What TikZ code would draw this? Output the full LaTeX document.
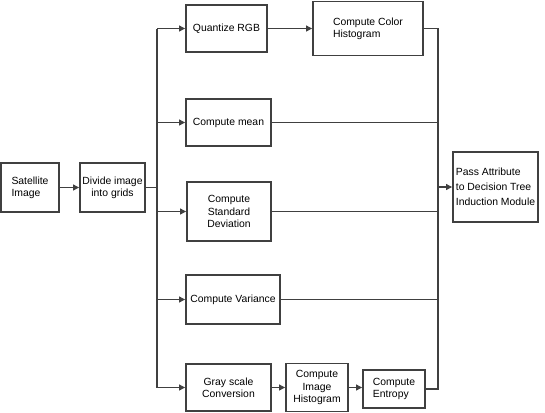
\documentclass[tikz,border=0pt]{standalone}
\usepackage{fontspec}
\setmainfont{Liberation Sans}
\usetikzlibrary{arrows.meta}
\begin{document}
\begin{tikzpicture}[x=0.75pt,y=-0.75pt,
  box/.style={draw=black!75, line width=0.8pt, inner sep=1pt, align=center,
    font=\fontsize{7.8}{9.2}\selectfont},
  conn/.style={draw=black!75, line width=0.8pt},
  arr/.style={conn, -{Triangle[length=4.5pt,width=4.5pt]}, shorten >=0.3pt}]
\useasboundingbox (0,0) rectangle (545,412);
\node[box, minimum width=43.5pt, minimum height=36.75pt, align=left] (sat) at (30,187.5) {Satellite\\Image};
\node[box, minimum width=48.75pt, minimum height=36.75pt] (div) at (112.5,187.5) {Divide image\\into grids};
\node[box, minimum width=60.75pt, minimum height=35.25pt] (quant) at (226.5,28.5) {Quantize RGB};
\node[box, minimum width=82.5pt, minimum height=40.5pt, align=left] (hist) at (368,28.5) {Compute Color\\Histogram};
\node[box, minimum width=63.75pt, minimum height=35.25pt] (mean) at (228.5,122.5) {Compute mean};
\node[box, minimum width=63pt, minimum height=44.25pt] (std) at (229,211.5) {Compute\\Standard\\Deviation};
\node[box, minimum width=70.5pt, minimum height=36.75pt] (var) at (233,299.5) {Compute Variance};
\node[box, minimum width=63.75pt, minimum height=35.25pt] (gray) at (228.5,387.5) {Gray scale\\Conversion};
\node[box, minimum width=46.5pt, minimum height=36pt] (imh) at (317,387.5) {Compute\\Image\\Histogram};
\node[box, minimum width=46.5pt, minimum height=28.5pt, align=left] (ent) at (394,389) {Compute\\Entropy};
\node[box, minimum width=63.75pt, minimum height=52.5pt, align=left,
  font=\fontsize{7.8}{11.25}\selectfont] (pass) at (495.5,187) {Pass Attribute\\to Decision Tree\\Induction Module};
\coordinate (L) at (157,187.5);
\coordinate (R) at (438,187);
% left side
\draw[arr] (sat) -- (div);
\draw[conn] (div) -- (L);
\draw[conn] (L |- quant.west) -- (L |- gray.west);
\draw[arr] (L |- quant.west) -- (quant);
\draw[arr] (L |- mean.west) -- (mean);
\draw[arr] (L |- std.west) -- (std);
\draw[arr] (L |- var.west) -- (var);
\draw[arr] (L |- gray.west) -- (gray);
% chains
\draw[arr] (quant) -- (quant -| hist.west);
\draw[arr] (gray) -- (gray -| imh.west);
\draw[arr] (gray -| imh.east) -- (gray -| ent.west);
% right side
\draw[conn] (hist.east) -- (R |- hist.east) -- (R |- ent.east) -- (ent.east);
\draw[conn] (mean) -- (R |- mean.east);
\draw[conn] (std) -- (R |- std.east);
\draw[conn] (var) -- (R |- var.east);
\draw[arr] (R |- pass.west) -- (pass);
\end{tikzpicture}
\end{document}
